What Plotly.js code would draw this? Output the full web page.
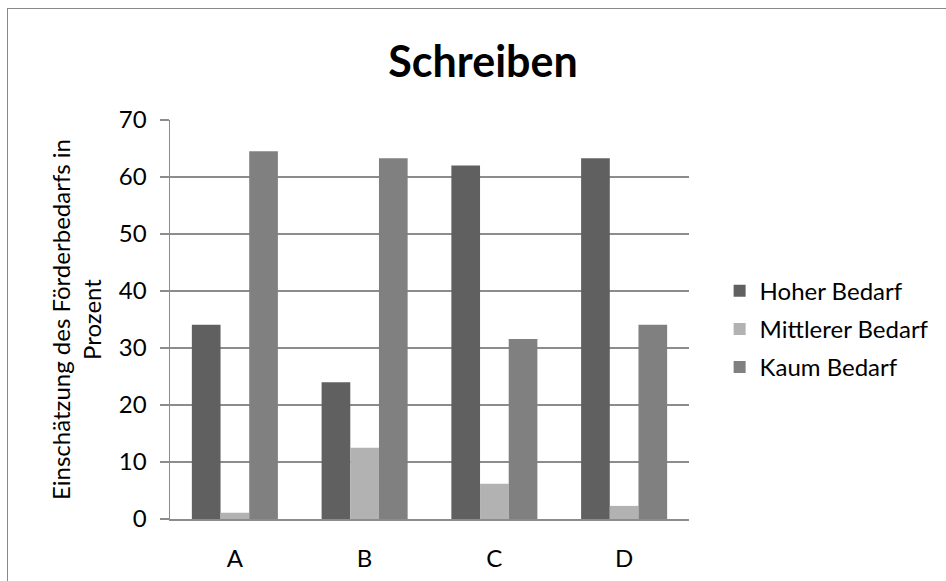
<!DOCTYPE html>
<html>
<head>
<meta charset="utf-8">
<script src="https://cdn.plot.ly/plotly-3.0.1.min.js"></script>
<style>
  html, body { margin: 0; padding: 0; background: #fff; }
  #wrap { position: relative; width: 946px; height: 581px; overflow: hidden; }
  #chart { width: 946px; height: 581px; }
  #frame { position: absolute; left: 7px; top: 8px; width: 1000px; height: 700px;
           border: 1.5px solid #888; pointer-events: none; box-sizing: border-box; }
</style>
</head>
<body>
<div id="wrap">
  <div id="chart"></div>
  <div id="frame"></div>
</div>
<script>
// Schools / groups on the x axis
const categories = ['A', 'B', 'C', 'D'];

// Share of answers per need level, in percent
const hoherBedarf     = [34.1, 24.0, 62.0, 63.3];
const mittlererBedarf = [1.1, 12.5, 6.2, 2.3];
const kaumBedarf      = [64.5, 63.3, 31.6, 34.1];

const seriesNames = ['Hoher Bedarf', 'Mittlerer Bedarf', 'Kaum Bedarf'];
const seriesColors = ['#606060', '#b2b2b2', '#808080'];
const seriesValues = [hoherBedarf, mittlererBedarf, kaumBedarf];

const yTicks = [0, 10, 20, 30, 40, 50, 60, 70];

const font = 'Lato, "Open Sans", "Noto Sans", sans-serif';
const fs = 24;

const traces = seriesValues.map((vals, i) => ({
  type: 'bar',
  name: seriesNames[i],
  legendgroup: 'g' + i,
  x: categories,
  y: vals,
  marker: { color: seriesColors[i], line: { width: 0 } },
  hoverinfo: 'x+y+name'
}));

const layout = {
  width: 946,
  height: 581,
  paper_bgcolor: '#fff',
  plot_bgcolor: '#fff',
  margin: { l: 170, r: 253, t: 120, b: 62 },
  barmode: 'group',
  bargap: 0.337,
  bargroupgap: 0,
  font: { family: font, size: fs, color: '#000' },
  title: {
    text: '<b>Schreiben</b>',
    font: { family: font, size: 43, color: '#000' },
    x: 0.5106, xref: 'container', xanchor: 'center',
    y: 0.893, yref: 'container', yanchor: 'middle'
  },
  xaxis: {
    type: 'category',
    showline: true, linecolor: '#8c8c8c', linewidth: 1.5,
    showgrid: false, ticks: '', ticklabelstandoff: 18,
    tickfont: { family: font, size: fs, color: '#000' },
    zeroline: false
  },
  yaxis: {
    range: [0, 70],
    tickvals: yTicks,
    showline: true, linecolor: '#8c8c8c', linewidth: 1.5,
    showgrid: true, gridcolor: '#8c8c8c', gridwidth: 1.5,
    ticks: 'outside', ticklen: 9, tickcolor: '#8c8c8c', tickwidth: 1.5,
    ticklabelstandoff: 8,
    tickfont: { family: font, size: fs, color: '#000' },
    zeroline: false,
    title: {
      text: 'Einschätzung des Förderbedarfs in<br>Prozent',
      font: { family: font, size: fs, color: '#000' },
      standoff: 10
    }
  },
  legend: {
    x: 1.059, xanchor: 'left',
    y: 0.476, yanchor: 'middle',
    font: { family: font, size: fs, color: '#000' },
    itemwidth: 30,
    tracegroupgap: 4,
    bgcolor: 'rgba(0,0,0,0)'
  },
  showlegend: true
};

Plotly.newPlot('chart', traces, layout, { displayModeBar: false, staticPlot: true });
</script>
</body>
</html>
